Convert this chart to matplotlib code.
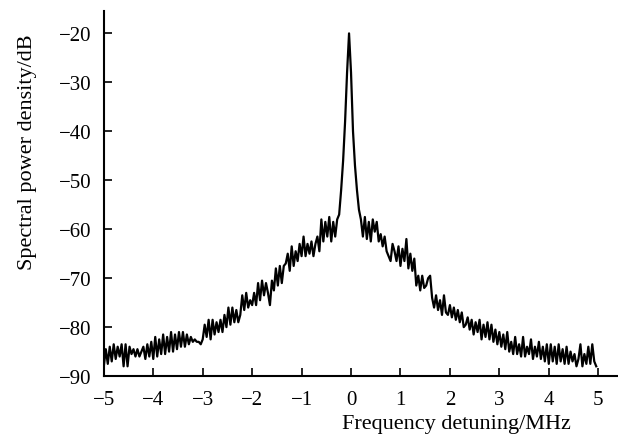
import numpy as np
import matplotlib
matplotlib.use('Agg')
import matplotlib.pyplot as plt

# frequency grid (MHz), step 0.04 from -5 to 4.96
freq = np.round(np.arange(250) * 0.04 - 5.0, 2)

# spectral power density (dB)
psd = [
    -88, -84.5, -87.5, -84, -87,
    -83.5, -86.5, -84, -86, -83.5,
    -88, -83.5, -88, -84, -85.5,
    -84.5, -86, -84.5, -86, -85,
    -84, -86.5, -83.5, -86, -83,
    -86.5, -82, -86, -82.5, -85.5,
    -81.5, -85.5, -82, -85, -81,
    -85, -81.5, -84.5, -81, -84,
    -81, -84, -81.5, -83.5, -82,
    -83, -82.5, -83, -83, -83.5,
    -82.5, -79.5, -82, -78.5, -82.5,
    -78.5, -81.5, -79, -81, -78.5,
    -81, -77.5, -80, -76, -79.5,
    -76, -79, -76.5, -79, -77.5,
    -73.5, -76.5, -73, -76, -74.5,
    -75.5, -73, -75.5, -71, -74.5,
    -70.5, -73.5, -71, -73, -75.5,
    -70.5, -72.5, -68, -71.5, -67.5,
    -71, -67.5, -67, -65, -68.5,
    -63.5, -67.5, -64.5, -66.5, -63,
    -65.5, -61.5, -65.5, -63, -65,
    -62.5, -65.5, -63, -61.5, -64.5,
    -58, -62.5, -58.5, -61.5, -57.5,
    -62.5, -58.5, -61.5, -58, -57,
    -52, -46, -38, -28, -20,
    -28, -40, -47, -52, -56,
    -58, -61.5, -57.5, -62, -58.5,
    -62.5, -58, -60.5, -58.5, -62.5,
    -61, -63.5, -61.5, -64.5, -65.5,
    -66.5, -63, -64.5, -66.5, -63.5,
    -67.5, -64, -66.5, -62, -68,
    -65, -68.5, -66, -71.5, -69.5,
    -72.5, -69.5, -72, -71.5, -70,
    -69.5, -74, -76, -73.5, -76.5,
    -74.5, -77.5, -73.5, -77, -77.5,
    -75.5, -78, -76, -78.5, -76.5,
    -79, -77, -80, -79.5, -78,
    -80.5, -78.5, -81.5, -79, -81,
    -78.5, -82.5, -79.5, -82, -79,
    -82.5, -79.5, -83, -80.5, -83.5,
    -81, -84, -81.5, -84.5, -81,
    -85, -83, -85.5, -82, -85.5,
    -83.5, -86, -82, -86, -84,
    -85.5, -82.5, -86.5, -84, -86,
    -83, -86.5, -84, -87, -83.5,
    -87.5, -83.5, -87, -84, -87.5,
    -83.5, -87, -84.5, -87.5, -84,
    -87.5, -85, -87, -85.5, -88,
    -86.5, -83.5, -88, -85.5, -87.5,
    -84, -87.5, -83.5, -87, -88,
]

xticks = [-5, -4, -3, -2, -1, 0, 1, 2, 3, 4, 5]
yticks = [-90, -80, -70, -60, -50, -40, -30, -20]

plt.rcParams['font.family'] = ['Liberation Serif', 'DejaVu Serif']

fig = plt.figure(figsize=(6.18, 4.39), dpi=100)
ax = fig.add_axes([0.168, 0.141, 0.832, 0.832])

ax.plot(freq, psd, color='black', linewidth=1.6)

ax.set_xlim(-5, 5.4)
ax.set_ylim(-90, -15.4)
ax.set_xticks(xticks)
ax.set_yticks(yticks)
ax.set_xticklabels(['\u2212%d' % -t if t < 0 else '%d' % t for t in xticks])
ax.set_yticklabels(['\u2212%d' % -t for t in yticks])

for s in ['top', 'right']:
    ax.spines[s].set_visible(False)
for s in ['left', 'bottom']:
    ax.spines[s].set_linewidth(1.5)

ax.tick_params(direction='in', length=6, width=1.2, labelsize=15)
ax.tick_params(axis='y', pad=9)
ax.tick_params(axis='x', pad=10)

fig.text(0.044, 0.654, 'Spectral power density/dB', rotation=90,
         ha='center', va='center', fontsize=16)
fig.text(0.738, 0.034, 'Frequency detuning/MHz', ha='center', va='center',
         fontsize=16)

fig.savefig('out.png', dpi=100)
